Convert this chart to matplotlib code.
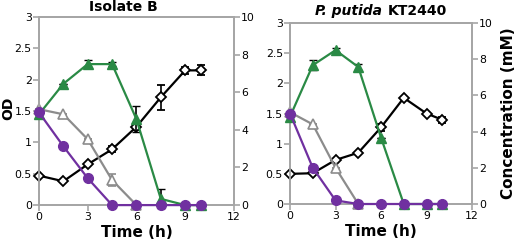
import numpy as np
import matplotlib.pyplot as plt

plt.rcParams["font.family"] = ["DejaVu Sans"]

time = [0, 1.5, 3, 4.5, 6, 7.5, 9, 10]

# Isolate B
od_b = [0.47, 0.38, 0.65, 0.89, 1.25, 1.72, 2.15, 2.15]
od_b_err = [0.0, 0.0, 0.0, 0.05, 0.05, 0.2, 0.05, 0.08]
green_b = [4.83, 6.45, 7.5, 7.5, 4.57, 0.33, 0.0, 0.0]
green_b_err = [0.0, 0.0, 0.2, 0.1, 0.7, 0.5, 0.0, 0.0]
grey_b = [5.1, 4.83, 3.5, 1.33, 0.0]
grey_b_err = [0.0, 0.0, 0.0, 0.33, 0.0]
purple_b = [4.93, 3.13, 1.43, 0.0, 0.0, 0.0, 0.0, 0.0]

# P. putida KT2440
od_p = [0.5, 0.51, 0.73, 0.85, 1.27, 1.76, 1.5, 1.4]
od_p_err = [0.0, 0.0, 0.0, 0.0, 0.06, 0.02, 0.0, 0.05]
green_p = [4.83, 7.67, 8.5, 7.57, 3.67, 0.0, 0.0, 0.0]
green_p_err = [0.0, 0.27, 0.1, 0.15, 0.0, 0.0, 0.0, 0.0]
grey_p = [5.07, 4.4, 2.0, 0.0]
purple_p = [5.0, 2.0, 0.2, 0.0, 0.0, 0.0, 0.0, 0.0]

GREEN = "#2a8a45"
PURPLE = "#7030a0"
GREY = "#8c8c8c"
SPINE = "#a6a6a6"

fig = plt.figure(figsize=(5.17, 2.41), dpi=100)


def style(ax, ax2):
    for a in (ax, ax2):
        for s in a.spines.values():
            s.set_color(SPINE)
            s.set_linewidth(1.3)
        a.tick_params(colors=SPINE, labelcolor="black", labelsize=7.8,
                      length=4, width=1.2, pad=1.2)
    ax.set_xlim(0, 12)
    ax.set_xticks([0, 3, 6, 9, 12])
    ax.set_ylim(0, 3)
    ax.set_yticks([0, 0.5, 1, 1.5, 2, 2.5, 3])
    ax.set_yticklabels(["0", "0.5", "1", "1.5", "2", "2.5", "3"])
    ax2.set_ylim(0, 10)
    ax2.set_yticks([0, 2, 4, 6, 8, 10])
    ax.set_xlabel("Time (h)", fontsize=11, fontweight="bold", labelpad=2)


def draw(rect, od, od_err, green, green_err, grey, grey_err, purple):
    ax = fig.add_axes(rect)
    ax2 = ax.twinx()
    style(ax, ax2)
    ax.errorbar(time, od, yerr=od_err, color="black", lw=1.6, marker="D",
                ms=5, mfc="white", mec="black", mew=1.3, capsize=3,
                elinewidth=1.2, clip_on=False, zorder=3)
    ax2.errorbar(time[:len(grey)], grey, yerr=grey_err, color=GREY, lw=1.6,
                 marker="^", ms=7, mfc="white", mec=GREY, mew=1.2, capsize=3,
                 elinewidth=1.2, clip_on=False, zorder=2)
    ax2.errorbar(time, green, yerr=green_err, color=GREEN, lw=1.6,
                 marker="^", ms=7, mfc=GREEN, mec=GREEN, capsize=3,
                 ecolor="black", elinewidth=1.2, clip_on=False, zorder=3)
    ax2.plot(time, purple, color=PURPLE, lw=1.6, marker="o", ms=7,
             mfc=PURPLE, mec=PURPLE, clip_on=False, zorder=4)
    return ax, ax2


ax_b, ax2_b = draw([0.0754, 0.149, 0.377, 0.780], od_b, od_b_err,
                   green_b, green_b_err, grey_b, grey_b_err, purple_b)
fig.text(8 / 517, 1 - 108 / 241, "OD", fontsize=10, fontweight="bold",
         rotation=90, ha="center", va="center")

ax_p, ax2_p = draw([0.561, 0.1535, 0.352, 0.751], od_p, od_p_err,
                   green_p, green_p_err, grey_p, [0.0] * len(grey_p), purple_p)
ax2_p.set_ylabel("Concentration (mM)", fontsize=11, fontweight="bold",
                 labelpad=6)

fig.text(123 / 517, 1 - 7 / 241, "Isolate B", fontsize=10, fontweight="bold",
         ha="center", va="center")

# italic species name followed by upright strain name
renderer = fig.canvas.get_renderer()
t1 = fig.text(0, 1 - 11 / 241, "P. putida ", fontsize=10, fontweight="bold",
              style="italic", ha="left", va="center")
t2 = fig.text(0, 1 - 11 / 241, "KT2440", fontsize=10, fontweight="bold",
              ha="left", va="center")
w1 = t1.get_window_extent(renderer).width / fig.dpi
w2 = t2.get_window_extent(renderer).width / fig.dpi
x0 = 381 / 517 - (w1 + w2) / 2 / 5.17
t1.set_x(x0)
t2.set_x(x0 + w1 / 5.17)

plt.savefig("out.png", dpi=100)
